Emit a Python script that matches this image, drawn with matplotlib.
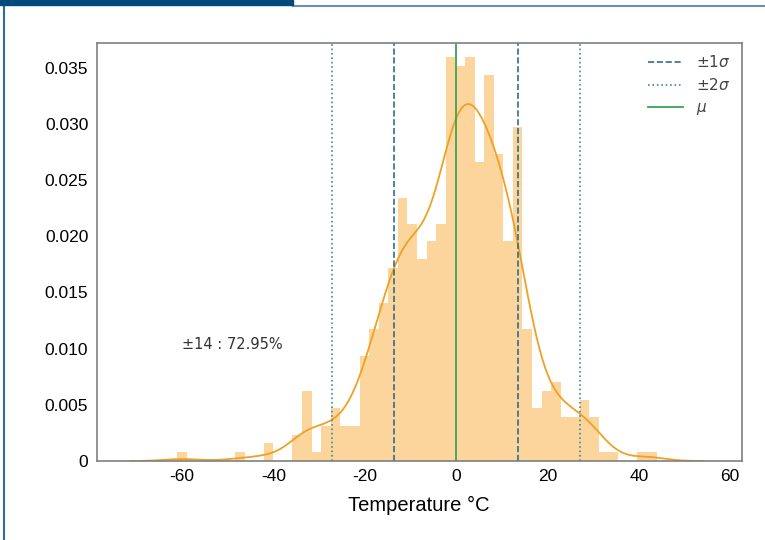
import numpy as np
import matplotlib
matplotlib.use('Agg')
import matplotlib.pyplot as plt
import seaborn as sns
from matplotlib.patches import Rectangle
from matplotlib.lines import Line2D

plt.rcParams['axes.unicode_minus'] = False

# histogram: 50 bins, counts per bin (N = 610)
bin_lo, bin_hi, n_bins = -61.0, 43.9, 50
counts = [1, 0, 0, 0, 0, 0, 1, 0, 0, 2,
          0, 0, 3, 8, 1, 4, 6, 4, 4, 12,
          15, 18, 22, 30, 27, 23, 25, 27, 46, 45,
          46, 34, 44, 35, 25, 38, 15, 6, 8, 9,
          5, 5, 7, 5, 1, 1, 0, 0, 1, 1]
mu, sigma = 0.0, 13.6
note = '±14 : 72.95%'

edges = np.linspace(bin_lo, bin_hi, n_bins + 1)
centers = (edges[:-1] + edges[1:]) / 2
samples = np.repeat(centers, counts)

fig = plt.figure(figsize=(7.65, 5.4), dpi=100)
ax = fig.add_axes([0.1263, 0.1463, 0.8430, 0.7741])

ax.hist(centers, bins=edges, weights=counts, density=True,
        color='#fbd59c', edgecolor='none')
sns.kdeplot(x=samples, bw_method='scott', cut=3, color='#efa125', lw=1.3, ax=ax)

ax.axvline(mu - sigma, color='#2c6e8e', ls='--', lw=1.2, label='±1$\\sigma$')
ax.axvline(mu + sigma, color='#2c6e8e', ls='--', lw=1.2)
ax.axvline(mu - 2 * sigma, color='#3f8c95', ls=':', lw=1.2, label='±2$\\sigma$')
ax.axvline(mu + 2 * sigma, color='#3f8c95', ls=':', lw=1.2)
ax.axvline(mu, color='#3aa35a', ls='-', lw=1.3, label='$\\mu$')

ax.text(-60, 0.0104, note, ha='left', va='center', fontsize=10.5, color='#333333',
        family='DejaVu Sans')

ax.set_xlim(-78.7, 62.5)
ax.set_ylim(0, 0.0372)
ax.set_xticks([-60, -40, -20, 0, 20, 40, 60])
ax.set_yticks([0, 0.005, 0.010, 0.015, 0.020, 0.025, 0.030, 0.035])
ax.set_yticklabels(['0', '0.005', '0.010', '0.015', '0.020', '0.025', '0.030', '0.035'])
ax.tick_params(length=0, labelsize=12.5, pad=6)
for lab in ax.get_xticklabels() + ax.get_yticklabels():
    lab.set_family('Liberation Sans')
ax.set_ylabel('')
ax.set_xlabel('Temperature °C', fontsize=14.5, family='Liberation Sans', labelpad=8)
for s in ax.spines.values():
    s.set_color('#7f7f7f'); s.set_linewidth(1.2)

leg = ax.legend(loc='upper right', frameon=False, handlelength=2.3, labelspacing=0.45,
                borderaxespad=0.35, prop={'family': 'DejaVu Sans', 'size': 11})
for t in leg.get_texts():
    t.set_color('#444444')

# page frame around the figure
fig.patches.append(Rectangle((0, 1 - 5 / 540), 293 / 765, 5 / 540, transform=fig.transFigure,
                             color='#004a7c', zorder=5))
fig.lines.append(Line2D([293 / 765, 1], [1 - 5.5 / 540] * 2, transform=fig.transFigure,
                        color='#6a90b4', lw=1.5))
fig.lines.append(Line2D([4 / 765] * 2, [0, 1 - 5 / 540], transform=fig.transFigure,
                        color='#2a6aa8', lw=1.5))

fig.savefig('out.png', dpi=100)
